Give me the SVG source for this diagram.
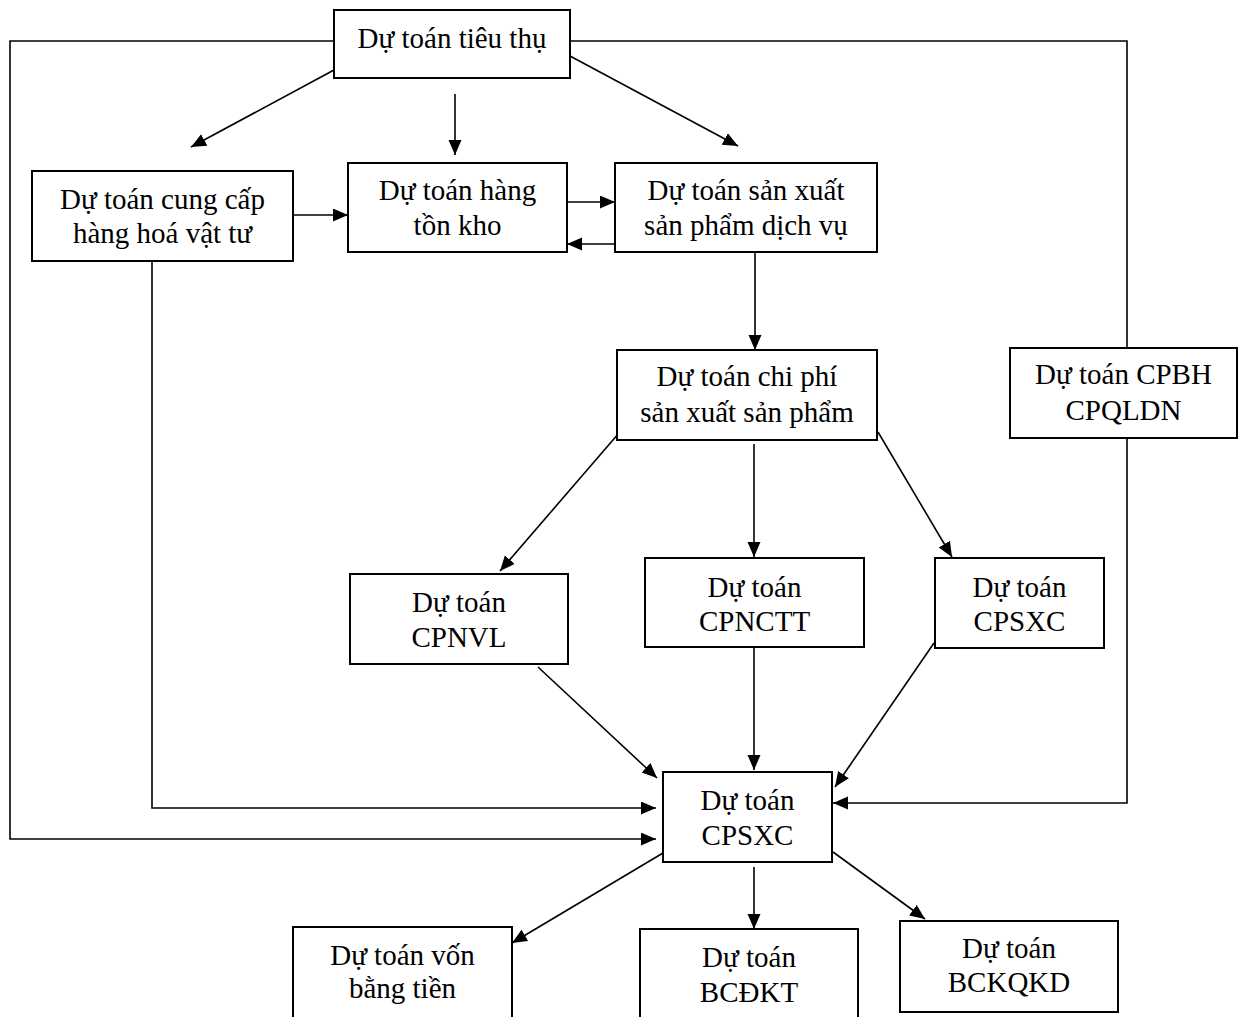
<svg xmlns="http://www.w3.org/2000/svg" width="1241" height="1017" viewBox="0 0 1241 1017">
<defs>
<marker id="arr" markerUnits="userSpaceOnUse" markerWidth="16" markerHeight="14" refX="15" refY="6.5" orient="auto">
<path d="M0,0 L15,6.5 L0,13 z" fill="#000"/>
</marker>
<style>
.box{fill:#fff;stroke:#000;stroke-width:2}
.t{font-family:"Liberation Serif","Times New Roman",serif;font-size:29px;fill:#000;text-anchor:middle}
.c{fill:none;stroke:#000;stroke-width:1.6}
.a{marker-end:url(#arr)}
</style>
</defs>
<rect width="1241" height="1017" fill="#fff"/>
<g id="connectors">
<path class="c a" d="M334,70 L191,147"/>
<path class="c a" d="M455,94 L455,155"/>
<path class="c a" d="M570,56 L738,146"/>
<path class="c a" d="M293,215 L348,215"/>
<path class="c a" d="M567,202 L615,202"/>
<path class="c a" d="M615,244 L567,244"/>
<path class="c a" d="M755,252 L755,350"/>
<path class="c a" d="M334,41 L10,41 L10,839 L656,839"/>
<path class="c" d="M570,41 L1127,41 L1127,348"/>
<path class="c a" d="M1127,438 L1127,803 L833,803"/>
<path class="c a" d="M619,433 L500,571"/>
<path class="c a" d="M754,444 L754,557"/>
<path class="c a" d="M878,432 L952,557"/>
<path class="c a" d="M152,261 L152,808 L656,808"/>
<path class="c a" d="M538,667 L657,778"/>
<path class="c a" d="M754,647 L754,770"/>
<path class="c a" d="M934,643 L835,787"/>
<path class="c a" d="M663,853 L512,943"/>
<path class="c a" d="M754,867 L754,929"/>
<path class="c a" d="M833,852 L925,919"/>
</g>
<g id="n-tieuthu"><rect class="box" x="334" y="10" width="236" height="68"/><text class="t" x="452" y="48">Dự toán tiêu thụ</text></g>
<g id="n-cungcap"><rect class="box" x="32" y="171" width="261" height="90"/><text class="t" x="162.5" y="209">Dự toán cung cấp</text><text class="t" x="162.5" y="243">hàng hoá vật tư</text></g>
<g id="n-tonkho"><rect class="box" x="348" y="163" width="219" height="89"/><text class="t" x="457.5" y="200">Dự toán hàng</text><text class="t" x="457.5" y="235">tồn kho</text></g>
<g id="n-sanxuat"><rect class="box" x="615" y="163" width="262" height="89"/><text class="t" x="746" y="200">Dự toán sản xuất</text><text class="t" x="746" y="235">sản phẩm dịch vụ</text></g>
<g id="n-chiphi"><rect class="box" x="617" y="350" width="260" height="90"/><text class="t" x="747" y="386">Dự toán chi phí</text><text class="t" x="747" y="422">sản xuất sản phẩm</text></g>
<g id="n-cpbh"><rect class="box" x="1010" y="348" width="227" height="90"/><text class="t" x="1123.5" y="384">Dự toán CPBH</text><text class="t" x="1123.5" y="420">CPQLDN</text></g>
<g id="n-cpnvl"><rect class="box" x="350" y="574" width="218" height="90"/><text class="t" x="459" y="612">Dự toán</text><text class="t" x="459" y="647">CPNVL</text></g>
<g id="n-cpnctt"><rect class="box" x="645" y="558" width="219" height="89"/><text class="t" x="754.5" y="597">Dự toán</text><text class="t" x="754.5" y="631">CPNCTT</text></g>
<g id="n-cpsxc1"><rect class="box" x="935" y="558" width="169" height="90"/><text class="t" x="1019.5" y="597">Dự toán</text><text class="t" x="1019.5" y="631">CPSXC</text></g>
<g id="n-cpsxc2"><rect class="box" x="663" y="772" width="169" height="90"/><text class="t" x="747.5" y="810">Dự toán</text><text class="t" x="747.5" y="845">CPSXC</text></g>
<g id="n-von"><rect class="box" x="293" y="927" width="219" height="110"/><text class="t" x="402.5" y="965">Dự toán vốn</text><text class="t" x="402.5" y="998">bằng tiền</text></g>
<g id="n-bcdkt"><rect class="box" x="640" y="929" width="218" height="110"/><text class="t" x="749" y="967">Dự toán</text><text class="t" x="749" y="1002">BCĐKT</text></g>
<g id="n-bckqkd"><rect class="box" x="900" y="921" width="218" height="91"/><text class="t" x="1009" y="958">Dự toán</text><text class="t" x="1009" y="992">BCKQKD</text></g>
</svg>
